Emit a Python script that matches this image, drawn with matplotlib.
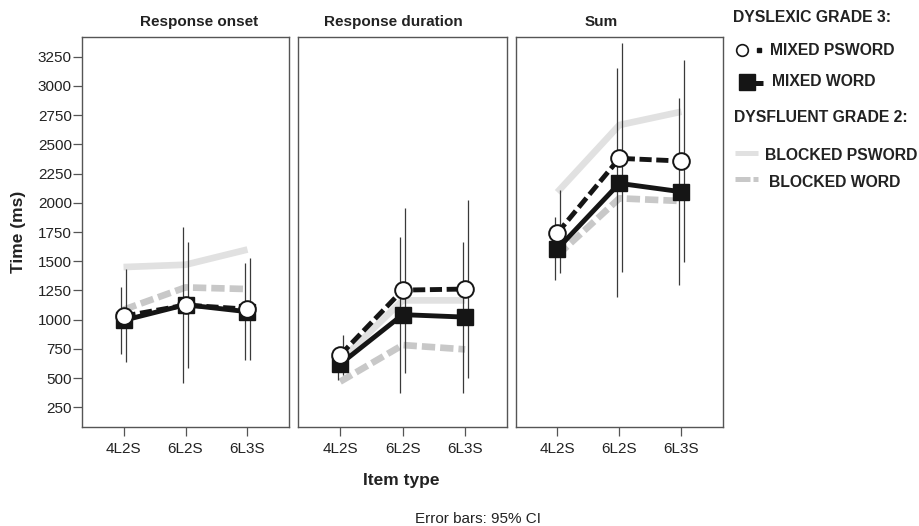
import matplotlib
matplotlib.use('Agg')
import matplotlib.pyplot as plt
from matplotlib.lines import Line2D
import numpy as np

plt.rcParams['font.family'] = ['Liberation Sans', 'DejaVu Sans']

# ---------------- data ----------------
categories = ['4L2S', '6L2S', '6L3S']
panel_titles = ['Response onset', 'Response duration', 'Sum']
y_ticks = [250, 500, 750, 1000, 1250, 1500, 1750, 2000, 2250, 2500, 2750, 3000, 3250]

# Response onset
onset_mixed_psword = [1030, 1125, 1090]
onset_mixed_word = [994, 1128, 1068]
onset_blocked_psword = [1450, 1470, 1600]
onset_blocked_word = [1085, 1276, 1262]
onset_psword_ci_lo = [640, 583, 655]
onset_psword_ci_hi = [1430, 1667, 1525]
onset_word_ci_lo = [703, 455, 655]
onset_word_ci_hi = [1282, 1795, 1482]

# Response duration
dur_mixed_psword = [697, 1253, 1262]
dur_mixed_word = [620, 1043, 1022]
dur_blocked_psword = [650, 1165, 1165]
dur_blocked_word = [470, 783, 746]
dur_psword_ci_lo = [525, 541, 500]
dur_psword_ci_hi = [869, 1952, 2023]
dur_word_ci_lo = [484, 370, 376]
dur_word_ci_hi = [756, 1704, 1667]

# Sum
sum_mixed_psword = [1740, 2380, 2357]
sum_mixed_word = [1604, 2166, 2094]
sum_blocked_psword = [2090, 2665, 2779]
sum_blocked_word = [1550, 2038, 2015]
sum_psword_ci_lo = [1396, 1410, 1495]
sum_psword_ci_hi = [2109, 3364, 3221]
sum_word_ci_lo = [1339, 1196, 1296]
sum_word_ci_hi = [1880, 3150, 2893]

panels = [
    dict(mp=onset_mixed_psword, mw=onset_mixed_word, bp=onset_blocked_psword, bw=onset_blocked_word,
         plo=onset_psword_ci_lo, phi=onset_psword_ci_hi, wlo=onset_word_ci_lo, whi=onset_word_ci_hi),
    dict(mp=dur_mixed_psword, mw=dur_mixed_word, bp=dur_blocked_psword, bw=dur_blocked_word,
         plo=dur_psword_ci_lo, phi=dur_psword_ci_hi, wlo=dur_word_ci_lo, whi=dur_word_ci_hi),
    dict(mp=sum_mixed_psword, mw=sum_mixed_word, bp=sum_blocked_psword, bw=sum_blocked_word,
         plo=sum_psword_ci_lo, phi=sum_psword_ci_hi, wlo=sum_word_ci_lo, whi=sum_word_ci_hi),
]

# ---------------- style ----------------
W, H = 920, 526
BLACK = '#151515'
LIGHT = '#e1e1e1'
MID = '#c8c8c8'
FRAME = '#555555'
TXT = '#222222'

def fx(px):
    return px / W

def fy(py):
    return 1 - py / H

fig = plt.figure(figsize=(W / 100, H / 100), dpi=100)

ax_top, ax_bot = 37, 427
lefts = [82, 298.3, 515.7]
widths = [207, 208.7, 207.3]
title_x = [199.5, 393, 601.7]

x = np.arange(len(categories))
off = 0.04

axes = []
for i, (p, left, wd) in enumerate(zip(panels, lefts, widths)):
    ax = fig.add_axes([fx(left), fy(ax_bot), wd / W, (ax_bot - ax_top) / H])
    axes.append(ax)
    ax.plot(x, p['bp'], color=LIGHT, lw=4.8, solid_capstyle='butt', zorder=2)
    ax.plot(x, p['bw'], color=MID, lw=4.8, dashes=(2.0, 0.75), zorder=2.1)
    ax.plot(x, p['mw'], color=BLACK, lw=3.5, solid_capstyle='butt', zorder=3)
    ax.plot(x, p['mp'], color=BLACK, lw=3.5, dashes=(2.5, 0.95), zorder=3.1)
    ax.vlines(x - off, p['wlo'], p['whi'], color='#3a3a3a', lw=0.9, zorder=4)
    ax.vlines(x + off, p['plo'], p['phi'], color='#3a3a3a', lw=0.9, zorder=4)
    ax.plot(x, p['mw'], linestyle='none', marker='s', ms=11.5, mfc=BLACK, mec=BLACK, zorder=5)
    ax.plot(x, p['mp'], linestyle='none', marker='o', ms=12, mfc='white', mec=BLACK, mew=1.4, zorder=6)

    ax.set_xlim(-0.67, 2.67)
    ax.set_ylim(82, 3418)
    ax.set_xticks(x)
    ax.set_xticklabels(categories, fontsize=11, color=TXT)
    ax.tick_params(axis='x', direction='out', length=6.5, width=0.9, color=FRAME, pad=4.5)
    if i == 0:
        ax.set_yticks(y_ticks)
        ax.set_yticklabels([str(v) for v in y_ticks], fontsize=11, color=TXT)
        ax.tick_params(axis='y', direction='out', length=6.5, width=0.9, color=FRAME, pad=0.8)
    else:
        ax.set_yticks([])
    for s in ax.spines.values():
        s.set_color(FRAME)
        s.set_linewidth(1.0)
    fig.text(fx(title_x[i]), fy(26), panel_titles[i], ha='center', va='baseline',
             fontsize=11, fontweight='bold', color=TXT)

# axis labels
fig.text(fx(19), fy(232), 'Time (ms)', rotation=90, ha='center', va='center',
         fontsize=12.5, fontweight='bold', color=TXT)
fig.text(fx(401.7), fy(484.5), 'Item type', ha='center', va='baseline',
         fontsize=12.5, fontweight='bold', color=TXT)
fig.text(fx(478), fy(523), 'Error bars: 95% CI', ha='center', va='baseline',
         fontsize=11, color=TXT)

# ---------------- legend ----------------
def fline(xs, ys, **kw):
    fig.add_artist(Line2D([fx(v) for v in xs], [fy(v) for v in ys],
                          transform=fig.transFigure, **kw))

lg = dict(fontsize=11.3, fontweight='bold', color=TXT, va='baseline', ha='left')
fig.text(fx(733), fy(21.7), 'DYSLEXIC GRADE 3:', **lg)
fline([742], [50], linestyle='none', marker='o', ms=8.4, mfc='white', mec=BLACK, mew=1.2)
fline([759], [50], linestyle='none', marker='s', ms=3.0, mfc=BLACK, mec=BLACK)
fig.text(fx(770), fy(55), 'MIXED PSWORD', **lg)
fline([747, 763], [82.5, 82.5], color=BLACK, lw=3.6, solid_capstyle='butt')
fline([747], [81.7], linestyle='none', marker='s', ms=12, mfc=BLACK, mec=BLACK)
fig.text(fx(772), fy(86), 'MIXED WORD', **lg)
fig.text(fx(734), fy(121.7), 'DYSFLUENT GRADE 2:', **lg)
fline([735, 758], [152.5, 152.5], color=LIGHT, lw=3.6, solid_capstyle='butt')
fig.text(fx(765), fy(160), 'BLOCKED PSWORD', **lg)
fline([735, 750], [179, 179], color=MID, lw=3.6, solid_capstyle='butt')
fline([753, 758], [179, 179], color=MID, lw=3.6, solid_capstyle='butt')
fig.text(fx(769), fy(186.7), 'BLOCKED WORD', **lg)

fig.savefig('out.png', dpi=100)
